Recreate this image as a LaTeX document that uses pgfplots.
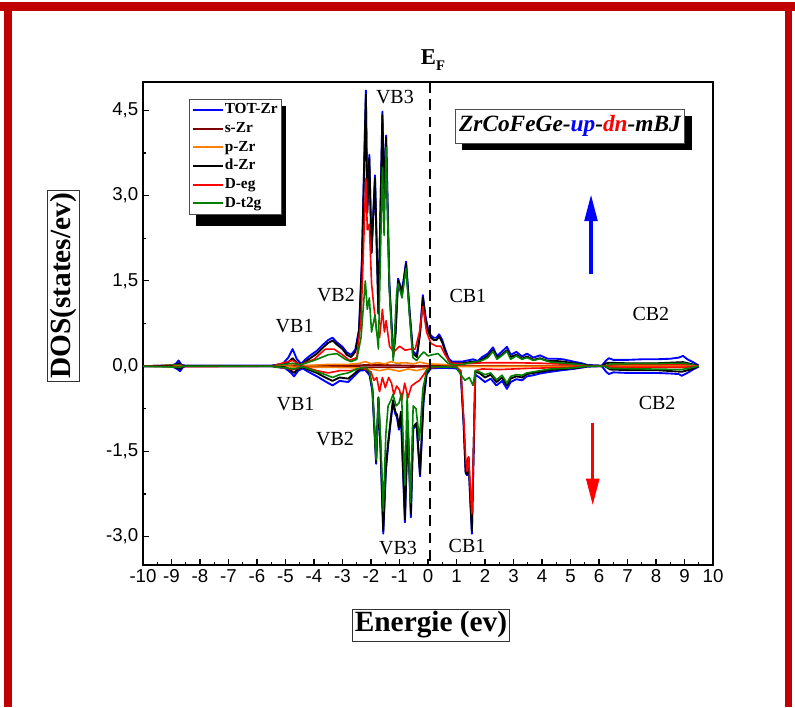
\documentclass[border=0pt]{standalone}
\usepackage{fontspec}
\setmainfont{Liberation Serif}
\newfontfamily\arialfont{Liberation Sans}
\usepackage{pgfplots}
\pgfplotsset{compat=1.18}
\usetikzlibrary{arrows.meta,shadows}
\definecolor{framered}{RGB}{192,0,0}
\definecolor{totblue}{RGB}{0,0,255}
\definecolor{szr}{RGB}{128,0,0}
\definecolor{pzr}{RGB}{255,128,0}
\definecolor{deg}{RGB}{255,0,0}
\definecolor{dtg}{RGB}{0,128,0}

\begin{document}
\begin{tikzpicture}
\useasboundingbox (0,0) rectangle (596.25pt,530.25pt);
% frame and boxed labels, in pixel units from the top left corner
\begin{scope}[x=0.75pt,y=-0.75pt,shift={(0pt,530.25pt)}]
  \fill[framered] (0,2) rectangle (795,11);
  \fill[framered] (4,2) rectangle (12,707);
  \fill[framered] (785,2) rectangle (792,707);
  % shadow behind the legend
  \fill[black] (196,106) rectangle (286,226);
  \node[draw=black!80, line width=0.6pt, fill=white, inner sep=2pt, rotate=90,
        font=\bfseries\fontsize{22}{22}\selectfont] at (63,286) {DOS(states/ev)};
  \node[draw=black!80, line width=0.6pt, fill=white, inner sep=2pt,
        font=\bfseries\fontsize{22}{22}\selectfont] at (431,625) {Energie (ev)};
  \node[draw=black!70, line width=0.6pt, fill=white, inner xsep=3pt, minimum height=25.5pt,
        drop shadow={shadow xshift=5pt, shadow yshift=-5.5pt, opacity=1, fill=black},
        font=\bfseries\itshape\fontsize{17.5}{17.5}\selectfont] at (570,126)
        {ZrCoFeGe-\textcolor{totblue}{up}-\textcolor{deg}{dn}-mBJ};
  \node[font=\bfseries\fontsize{17}{17}\selectfont, anchor=base] at (433,65)
        {E\raisebox{-4.5pt}{\fontsize{11}{11}\selectfont F}};
\end{scope}

\begin{axis}[
  at={(107.25pt,106.5pt)}, anchor=south west,
  scale only axis, width=427.5pt, height=362.25pt,
  xmin=-10, xmax=10, ymin=-3.5, ymax=5,
  xtick={-10,-9,...,10}, minor x tick num=1,
  ytick={-3,-1.5,0,1.5,3,4.5}, minor y tick num=1,
  xtick pos=bottom, ytick pos=left, tick align=inside,
  major tick length=4.5pt, minor tick length=2.5pt,
  axis line style={line width=1.1pt},
  tick style={line width=0.9pt, black},
  ticklabel style={font=\arialfont\fontsize{14}{14}\selectfont},
  /pgf/number format/assume math mode=true,
  yticklabel style={/pgf/number format/.cd, fixed, fixed zerofill, precision=1, use comma},
  clip mode=individual,
  no markers,
  every axis plot/.append style={line join=round},
  legend style={at={(0.081,0.965)}, anchor=north west, draw=black!70, line width=0.6pt,
    fill=white, inner xsep=2pt, inner ysep=1pt, row sep=0pt,
    nodes={inner sep=1pt, text height=9pt, text depth=3pt},
    font=\bfseries\fontsize{11.5}{11.5}\selectfont},
  legend cell align=left,
  legend image code/.code={\draw[#1, line width=1.4pt] (0pt,0pt) -- (22pt,0pt);},
]
% ---- spin up ----
\addplot[totblue, line width=1.4pt] coordinates {
 (-10,0) (-9.0,0.01) (-8.85,0.04) (-8.75,0.1) (-8.65,0.02) (-8.5,0.01) (-5.5,0.01) (-5.1,0.04)
 (-4.9,0.15) (-4.75,0.3) (-4.6,0.12) (-4.45,0.04) (-4.3,0.12) (-4.1,0.2) (-3.9,0.27) (-3.7,0.37)
 (-3.5,0.46) (-3.35,0.5) (-3.2,0.42) (-3.0,0.34) (-2.85,0.24) (-2.7,0.2) (-2.55,0.29) (-2.42,0.65)
 (-2.32,1.85) (-2.18,4.85) (-2.13,2.75) (-2.06,3.72) (-1.98,2.02) (-1.86,3.36) (-1.74,0.95)
 (-1.6,4.48) (-1.54,3.0) (-1.47,4.06) (-1.36,1.5) (-1.22,0.2) (-1.14,0.6) (-1.05,1.54) (-0.91,1.32)
 (-0.77,1.84) (-0.65,1.0) (-0.53,0.26) (-0.39,0.2) (-0.28,0.6) (-0.18,1.25) (-0.08,0.85) (0,0.66)
 (0.1,0.54) (0.2,0.5) (0.3,0.5) (0.39,0.56) (0.5,0.46) (0.6,0.3) (0.72,0.14) (0.84,0.08) (1.2,0.08)
 (1.58,0.12) (1.75,0.09) (1.9,0.16) (2.1,0.22) (2.28,0.33) (2.42,0.18) (2.58,0.25) (2.77,0.34)
 (2.9,0.2) (3.1,0.25) (3.3,0.17) (3.47,0.22) (3.7,0.15) (3.93,0.19) (4.2,0.13) (4.5,0.13)
 (4.74,0.12) (5.1,0.08) (5.4,0.05) (5.6,0.02) (6.1,0.01) (6.25,0.1) (6.35,0.14) (6.5,0.11)
 (7,0.11) (7.5,0.12) (8,0.12) (8.5,0.13) (8.8,0.15) (8.95,0.18) (9.1,0.12) (9.3,0.07) (9.5,0.01)};
\addlegendentry{TOT-Zr}
\addplot[szr, line width=1.2pt] coordinates {
 (-10,0) (-5,0) (-4.7,0.01) (-3,0.01) (-2.2,0.02) (-1.5,0.02) (-0.5,0.01) (0,0.01) (1,0) (9.5,0)};
\addlegendentry{s-Zr}
\addplot[pzr, line width=1.2pt] coordinates {
 (-10,0) (-8.7,0.01) (-5,0) (-4.7,0.03) (-4.3,0.01) (-3.5,0.03) (-2.8,0.03) (-2.4,0.05) (-2.2,0.08)
 (-2.0,0.04) (-1.8,0.06) (-1.5,0.04) (-1.3,0.08) (-1.1,0.05) (-0.8,0.06) (-0.5,0.04) (-0.3,0.07)
 (0,0.04) (0.5,0.03) (1,0.01) (3,0.01) (5,0.01) (9.5,0)};
\addlegendentry{p-Zr}
\addplot[black, line width=1.4pt] coordinates {
 (-10,0) (-9.0,0) (-8.85,0.02) (-8.75,0.05) (-8.65,0.01) (-8.5,0) (-5.5,0) (-5.1,0.02) (-4.9,0.07)
 (-4.75,0.14) (-4.6,0.06) (-4.45,0.02) (-4.3,0.08) (-4.1,0.15) (-3.9,0.22) (-3.7,0.32) (-3.5,0.41)
 (-3.35,0.45) (-3.2,0.38) (-3.0,0.3) (-2.85,0.2) (-2.7,0.16) (-2.55,0.25) (-2.42,0.6) (-2.32,1.8)
 (-2.18,4.78) (-2.13,2.7) (-2.06,3.66) (-1.98,1.99) (-1.86,3.3) (-1.74,0.92) (-1.6,4.42)
 (-1.54,2.95) (-1.47,4.02) (-1.36,1.45) (-1.22,0.16) (-1.14,0.55) (-1.05,1.5) (-0.91,1.29)
 (-0.77,1.8) (-0.65,0.96) (-0.53,0.22) (-0.39,0.16) (-0.28,0.56) (-0.18,1.21) (-0.08,0.8) (0,0.62)
 (0.1,0.5) (0.2,0.46) (0.3,0.46) (0.39,0.52) (0.5,0.42) (0.6,0.26) (0.72,0.1) (0.84,0.05)
 (1.2,0.05) (1.58,0.08) (1.75,0.06) (1.9,0.12) (2.1,0.18) (2.28,0.28) (2.42,0.14) (2.58,0.2)
 (2.77,0.28) (2.9,0.16) (3.1,0.2) (3.3,0.13) (3.47,0.17) (3.7,0.11) (3.93,0.14) (4.2,0.09)
 (4.5,0.09) (4.74,0.08) (5.1,0.05) (5.4,0.03) (5.6,0.01) (6.1,0) (6.25,0.05) (6.35,0.06) (7,0.05)
 (8,0.05) (8.95,0.07) (9.3,0.03) (9.5,0)};
\addlegendentry{d-Zr}
\addplot[deg, line width=1.2pt] coordinates {
 (-10,0) (-8.75,0.02) (-8.5,0) (-5.5,0) (-4.75,0.1) (-4.5,0.02) (-4,0.12) (-3.6,0.3) (-3.3,0.3)
 (-3.0,0.2) (-2.75,0.1) (-2.5,0.15) (-2.35,0.8) (-2.18,3.3) (-2.13,2.4) (-2.06,2.5) (-1.98,1.45)
 (-1.9,1.05) (-1.8,0.6) (-1.7,0.5) (-1.6,1.0) (-1.53,0.6) (-1.47,0.8) (-1.35,0.35) (-1.2,0.25)
 (-1.0,0.35) (-0.8,0.28) (-0.6,0.3) (-0.45,0.3) (-0.3,0.6) (-0.18,1.05) (-0.05,0.6) (0.1,0.4)
 (0.3,0.35) (0.45,0.35) (0.6,0.2) (0.8,0.05) (1.2,0.04) (2,0.06) (3,0.06) (4,0.05) (5,0.03)
 (5.7,0) (6.2,0) (6.5,0.03) (9,0.03) (9.5,0)};
\addlegendentry{D-eg}
\addplot[dtg, line width=1.2pt] coordinates {
 (-10,0) (-8.75,0.02) (-8.5,0) (-5.5,0) (-4.75,0.05) (-4.5,0.02) (-4,0.1) (-3.5,0.2) (-3.2,0.22)
 (-2.9,0.12) (-2.7,0.08) (-2.5,0.12) (-2.35,0.5) (-2.2,1.5) (-2.13,1.0) (-2.06,1.2) (-1.98,0.6)
 (-1.86,0.9) (-1.74,0.3) (-1.6,3.5) (-1.54,2.3) (-1.47,3.85) (-1.35,1.3) (-1.22,0.1) (-1.1,1.3)
 (-1.05,1.45) (-0.91,1.2) (-0.77,1.72) (-0.65,0.9) (-0.53,0.15) (-0.4,0.1) (-0.25,0.2)
 (-0.15,0.25) (0,0.18) (0.15,0.2) (0.35,0.22) (0.5,0.15) (0.7,0.05) (0.9,0.02) (1.2,0.03)
 (1.5,0.06) (1.9,0.1) (2.1,0.15) (2.28,0.26) (2.42,0.12) (2.58,0.18) (2.77,0.26) (2.9,0.12)
 (3.1,0.18) (3.3,0.12) (3.47,0.15) (3.7,0.1) (3.93,0.13) (4.3,0.07) (4.8,0.05) (5.3,0.03)
 (5.7,0) (6.2,0) (6.4,0.04) (9,0.05) (9.5,0)};
\addlegendentry{D-t2g}
% ---- spin down ----
\addplot[totblue, line width=1.4pt, forget plot] coordinates {
 (-10,0) (-9.0,0) (-8.8,-0.05) (-8.7,-0.09) (-8.6,-0.02) (-8.5,0) (-5.5,0) (-5.0,-0.04)
 (-4.8,-0.12) (-4.7,-0.18) (-4.55,-0.08) (-4.4,-0.04) (-4.2,-0.1) (-3.9,-0.18) (-3.6,-0.27)
 (-3.35,-0.34) (-3.1,-0.26) (-2.8,-0.28) (-2.6,-0.18) (-2.4,-0.08) (-2.2,-0.07) (-2.05,-0.16)
 (-1.95,-0.45) (-1.82,-1.72) (-1.74,-0.58) (-1.66,-1.55) (-1.57,-2.95) (-1.48,-1.85) (-1.4,-1.4)
 (-1.3,-0.94) (-1.23,-0.64) (-1.15,-0.84) (-1.09,-0.9) (-1.02,-1.12) (-0.95,-0.85) (-0.81,-2.75)
 (-0.71,-1.05) (-0.6,-2.66) (-0.52,-1.1) (-0.4,-1.04) (-0.28,-1.94) (-0.16,-0.65) (-0.05,-0.15)
 (0.1,-0.04) (0.5,-0.03) (1.0,-0.04) (1.15,-0.13) (1.25,-1.02) (1.32,-1.88) (1.37,-1.92)
 (1.42,-1.62) (1.48,-2.33) (1.54,-2.95) (1.6,-1.52) (1.66,-0.15) (1.8,-0.2) (2.0,-0.28)
 (2.2,-0.22) (2.4,-0.34) (2.6,-0.26) (2.77,-0.4) (2.9,-0.28) (3.1,-0.23) (3.3,-0.25) (3.47,-0.18)
 (3.7,-0.16) (3.93,-0.13) (4.3,-0.1) (4.74,-0.07) (5.1,-0.05) (5.6,-0.01) (6.1,0) (6.25,-0.1)
 (6.35,-0.14) (6.5,-0.11) (7,-0.12) (7.5,-0.12) (8,-0.12) (8.5,-0.13) (8.8,-0.14) (8.9,-0.17)
 (9.1,-0.12) (9.3,-0.06) (9.5,-0.01)};
\addplot[szr, line width=1.2pt, forget plot] coordinates {
 (-10,0) (-5,0) (-4.7,-0.01) (-3,-0.01) (-2,-0.02) (-1,-0.02) (0,-0.01) (1,0) (9.5,0)};
\addplot[pzr, line width=1.2pt, forget plot] coordinates {
 (-10,0) (-5,0) (-4.7,-0.02) (-3.5,-0.02) (-2.5,-0.03) (-2.0,-0.05) (-1.7,-0.08) (-1.4,-0.05)
 (-1.0,-0.09) (-0.7,-0.05) (-0.4,-0.08) (0,-0.03) (0.5,-0.01) (9.5,0)};
\addplot[black, line width=1.4pt, forget plot] coordinates {
 (-10,0) (-9.0,0) (-8.8,-0.03) (-8.7,-0.05) (-8.6,0) (-5.5,0) (-5.0,-0.02) (-4.8,-0.08) (-4.7,-0.12)
 (-4.55,-0.04) (-4.4,-0.02) (-4.2,-0.06) (-3.9,-0.12) (-3.6,-0.2) (-3.35,-0.26) (-3.1,-0.2)
 (-2.8,-0.22) (-2.6,-0.14) (-2.4,-0.05) (-2.2,-0.04) (-2.05,-0.12) (-1.95,-0.4) (-1.82,-1.68)
 (-1.74,-0.55) (-1.66,-1.5) (-1.57,-2.9) (-1.48,-1.8) (-1.4,-1.35) (-1.3,-0.9) (-1.23,-0.6)
 (-1.15,-0.8) (-1.09,-0.85) (-1.02,-1.08) (-0.95,-0.8) (-0.81,-2.7) (-0.71,-1.0) (-0.6,-2.6)
 (-0.52,-1.07) (-0.4,-1.0) (-0.28,-1.9) (-0.16,-0.6) (-0.05,-0.12) (0.1,-0.02) (0.5,-0.01)
 (1.0,-0.02) (1.15,-0.1) (1.25,-1.0) (1.32,-1.85) (1.37,-1.9) (1.42,-1.6) (1.48,-2.3) (1.54,-2.9)
 (1.6,-1.5) (1.66,-0.1) (1.8,-0.12) (2.0,-0.2) (2.2,-0.15) (2.4,-0.28) (2.6,-0.2) (2.77,-0.34)
 (2.9,-0.22) (3.1,-0.18) (3.3,-0.2) (3.47,-0.14) (3.7,-0.12) (3.93,-0.1) (4.3,-0.07) (4.7,-0.05)
 (5.1,-0.04) (5.6,0) (6.2,0) (6.4,-0.06) (7,-0.07) (8,-0.07) (8.9,-0.1) (9.2,-0.06) (9.5,0)};
\addplot[deg, line width=1.2pt, forget plot] coordinates {
 (-10,0) (-8.7,-0.01) (-5.5,0) (-4.7,-0.06) (-4.4,0) (-3.9,-0.08) (-3.5,-0.12) (-3.1,-0.08)
 (-2.7,-0.08) (-2.3,-0.03) (-2.0,-0.1) (-1.9,-0.25) (-1.8,-0.2) (-1.7,-0.45) (-1.6,-0.2)
 (-1.5,-0.38) (-1.38,-0.2) (-1.28,-0.3) (-1.2,-0.5) (-1.1,-0.35) (-1.0,-0.42) (-0.92,-0.6)
 (-0.82,-0.3) (-0.7,-0.55) (-0.58,-0.35) (-0.45,-0.3) (-0.3,-0.25) (-0.15,-0.15) (0,-0.03)
 (0.5,-0.01) (1.0,-0.02) (1.15,-0.08) (1.25,-0.9) (1.32,-1.6) (1.37,-1.85) (1.43,-1.6) (1.5,-2.3)
 (1.54,-2.6) (1.6,-1.4) (1.66,-0.08) (1.9,-0.05) (2.5,-0.06) (3.5,-0.04) (5,-0.02) (5.6,0)
 (6.2,0) (6.5,-0.02) (9,-0.02) (9.5,0)};
\addplot[dtg, line width=1.2pt, forget plot] coordinates {
 (-10,0) (-8.7,-0.02) (-8.6,0) (-5.5,0) (-4.7,-0.05) (-4.4,-0.01) (-4.0,-0.08) (-3.6,-0.15)
 (-3.35,-0.2) (-3.1,-0.15) (-2.8,-0.12) (-2.5,-0.05) (-2.2,-0.02) (-2.05,-0.1) (-1.95,-0.4)
 (-1.82,-1.65) (-1.74,-0.55) (-1.66,-1.3) (-1.57,-2.55) (-1.48,-1.2) (-1.4,-0.7) (-1.3,-0.6)
 (-1.23,-0.5) (-1.12,-0.7) (-1.02,-0.65) (-0.93,-0.48) (-0.81,-2.1) (-0.73,-0.5) (-0.62,-2.4)
 (-0.52,-0.7) (-0.42,-0.75) (-0.3,-1.3) (-0.18,-0.4) (-0.05,-0.08) (0.1,-0.01) (1.0,-0.02)
 (1.15,-0.15) (1.3,-0.25) (1.45,-0.2) (1.58,-0.34) (1.66,-0.08) (1.8,-0.1) (2.0,-0.15)
 (2.2,-0.12) (2.4,-0.24) (2.6,-0.16) (2.77,-0.3) (2.9,-0.18) (3.1,-0.15) (3.3,-0.16)
 (3.47,-0.12) (3.7,-0.1) (3.93,-0.08) (4.3,-0.05) (4.7,-0.04) (5.1,-0.03) (5.6,0) (6.2,0)
 (6.4,-0.04) (8.9,-0.06) (9.5,0)};
% Fermi level
\draw[black, line width=1.6pt, dash pattern=on 8pt off 5pt] (axis cs:0.07,5) -- (axis cs:0.07,-3.5);
% spin arrows
\draw[totblue, line width=2.5pt, -{Triangle[width=9.5pt,length=20pt]}] (axis cs:5.72,1.62) -- (axis cs:5.72,3.02);
\draw[deg, line width=2.5pt, -{Triangle[width=9.5pt,length=20pt]}] (axis cs:5.78,-1.0) -- (axis cs:5.78,-2.45);
% band labels
\begin{scope}[every node/.style={font=\fontsize{15}{15}\selectfont}]
\node at (axis cs:-1.16,4.74) {VB3};
\node at (axis cs:-3.23,1.25) {VB2};
\node at (axis cs:-4.68,0.70) {VB1};
\node at (axis cs:1.40,1.23) {CB1};
\node at (axis cs:7.82,0.92) {CB2};
\node at (axis cs:-4.65,-0.66) {VB1};
\node at (axis cs:-3.26,-1.29) {VB2};
\node at (axis cs:-1.05,-3.21) {VB3};
\node at (axis cs:1.37,-3.17) {CB1};
\node at (axis cs:8.04,-0.65) {CB2};
\end{scope}
\end{axis}
\end{tikzpicture}
\end{document}
